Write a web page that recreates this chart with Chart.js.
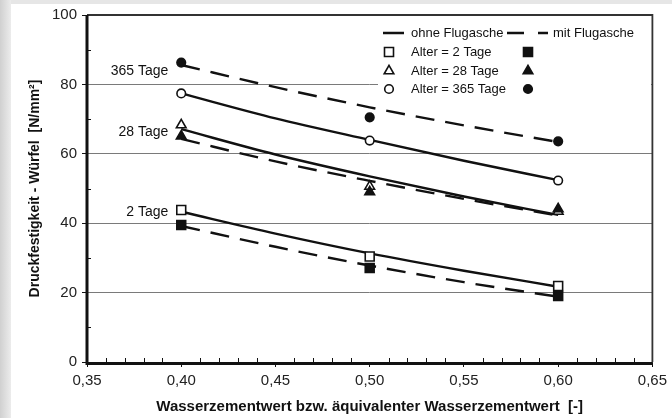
<!DOCTYPE html>
<html>
<head>
<meta charset="utf-8">
<script src="https://cdn.jsdelivr.net/npm/chart.js@4.4.1/dist/chart.umd.min.js"></script>
<style>
  html, body { margin: 0; padding: 0; background: #fff; }
  canvas { display: block; }
</style>
</head>
<body>
<canvas id="myChart" width="672" height="418"></canvas>
<script>
// Messwerte (w/z-Wert -> Druckfestigkeit N/mm²)
const wzWerte = [0.40, 0.50, 0.60]
const ohne2 = [43.8, 30.4, 21.9]
const mit2 = [39.5, 27.1, 19.0]
const ohne28 = [68.3, 50.6, 43.4]
const mit28 = [65.1, 49.0, 44.1]
const ohne365 = [77.4, 63.8, 52.3]
const mit365 = [86.3, 70.5, 63.6]

// Ausgleichskurven
const fitX = [0.40, 0.45, 0.50, 0.55, 0.60]
const fitOhne2 = [43.3, 37.0, 31.3, 26.3, 21.7]
const fitMit2 = [39.2, 33.2, 27.8, 23.0, 18.8]
const fitOhne28 = [67.1, 59.8, 53.5, 47.7, 42.4]
const fitMit28 = [64.3, 57.8, 52.2, 47.0, 42.2]
const fitOhne365 = [77.4, 70.2, 64.0, 58.0, 52.4]
const fitMit365 = [85.6, 79.2, 73.4, 68.2, 63.4]

const xTickWerte = [0.35, 0.40, 0.45, 0.50, 0.55, 0.60, 0.65]
const xTickLabels = ['0,35', '0,40', '0,45', '0,50', '0,55', '0,60', '0,65']
const yTickWerte = [0, 20, 40, 60, 80, 100]

const kurvenLabels = ['365 Tage', '28 Tage', '2 Tage']
const kurvenLabelY = [83.9, 66.3, 43.2]

const FONT = "'Liberation Sans', Arial, sans-serif"
const INK = '#111'

const pts = (xs, ys) => xs.map((x, i) => ({ x: x, y: ys[i] }))

const marker = (ys, style, filled) => ({
    data: pts(wzWerte, ys),
    showLine: false,
    pointStyle: style,
    pointRadius: style === 'rect' ? 6.3 : (style === 'triangle' ? 5.6 : 4.3),
    pointBackgroundColor: filled ? INK : '#fff',
    pointBorderColor: INK,
    pointBorderWidth: 1.6,
    order: filled ? 0 : 1
})

const kurve = (ys, dashed) => ({
    data: pts(fitX, ys),
    showLine: true,
    pointRadius: 0,
    borderColor: INK,
    borderWidth: 2.4,
    borderDash: dashed ? [19, 11] : [],
    cubicInterpolationMode: 'monotone',
    fill: false,
    order: 5
})

const drawMarker = (ctx, style, x, y, filled) => {
    ctx.save()
    ctx.lineWidth = 1.6
    ctx.strokeStyle = INK
    ctx.fillStyle = filled ? INK : '#fff'
    ctx.beginPath()
    if (style === 'rect') ctx.rect(x - 4.5, y - 4.5, 9, 9)
    else if (style === 'triangle') {
        ctx.moveTo(x, y - 5.6); ctx.lineTo(x + 4.8, y + 2.8); ctx.lineTo(x - 4.8, y + 2.8); ctx.closePath()
    } else ctx.arc(x, y, 4.3, 0, Math.PI * 2)
    ctx.fill(); ctx.stroke()
    ctx.restore()
}

const rahmen = {
    id: 'rahmen',
    beforeDraw(chart) {
        const ctx = chart.ctx
        ctx.save()
        ctx.fillStyle = '#fff'
        ctx.fillRect(0, 0, chart.width, chart.height)
        const g = ctx.createLinearGradient(0, 0, 11, 0)
        g.addColorStop(0, '#d0d0d0')
        g.addColorStop(1, '#ececec')
        ctx.fillStyle = g
        ctx.fillRect(0, 0, 11, chart.height)
        ctx.fillStyle = '#e6e6e6'
        ctx.fillRect(11, 0, chart.width - 11, 4)
        ctx.restore()
    },
    afterDatasetsDraw(chart) {
        const ctx = chart.ctx
        const xs = chart.scales.x, ys = chart.scales.y
        ctx.save()
        // Beschriftung der Kurven
        ctx.fillStyle = INK
        ctx.font = '14px ' + FONT
        ctx.textAlign = 'right'
        ctx.textBaseline = 'middle'
        kurvenLabels.forEach((t, i) => {
            ctx.fillText(t, xs.getPixelForValue(0.40) - 13, ys.getPixelForValue(kurvenLabelY[i]))
        })
        // Legende
        ctx.fillStyle = '#fff'
        ctx.fillRect(378, 17, 273, 82)
        ctx.strokeStyle = INK
        ctx.lineWidth = 2.4
        ctx.beginPath()
        ctx.moveTo(383, 33); ctx.lineTo(404, 33)
        ctx.moveTo(507, 33); ctx.lineTo(524, 33)
        ctx.moveTo(538, 33); ctx.lineTo(548, 33)
        ctx.stroke()
        ctx.fillStyle = INK
        ctx.font = '13px ' + FONT
        ctx.textAlign = 'left'
        ctx.fillText('ohne Flugasche', 411, 33)
        ctx.fillText('mit Flugasche', 553, 33)
        const zeilen = [['rect', 'Alter = 2 Tage', 52], ['triangle', 'Alter = 28 Tage', 71], ['circle', 'Alter = 365 Tage', 89]]
        zeilen.forEach(z => {
            ctx.fillStyle = INK
            ctx.fillText(z[1], 411, z[2])
            drawMarker(ctx, z[0], 389, z[2], false)
            drawMarker(ctx, z[0], 528, z[2], true)
        })
        ctx.restore()
    },
    afterDraw(chart) {
        const ctx = chart.ctx
        const a = chart.chartArea
        const xs = chart.scales.x, ys = chart.scales.y
        ctx.save()
        ctx.strokeStyle = INK
        // kleine Zwischenstriche
        ctx.lineWidth = 1
        ctx.beginPath()
        for (let i = 1; i < 30; i++) {
            if (i % 5 === 0) continue
            const px = Math.round(xs.getPixelForValue(0.35 + i * 0.01)) + 0.5
            ctx.moveTo(px, a.bottom); ctx.lineTo(px, a.bottom - 4)
        }
        for (let v = 10; v < 100; v += 20) {
            const py = Math.round(ys.getPixelForValue(v)) + 0.5
            ctx.moveTo(a.left, py); ctx.lineTo(a.left + 4, py)
        }
        ctx.stroke()
        // Rahmen oben/rechts
        ctx.strokeStyle = '#333'
        ctx.lineWidth = 1.8
        ctx.beginPath()
        ctx.moveTo(a.left, a.top); ctx.lineTo(a.right, a.top); ctx.lineTo(a.right, a.bottom)
        ctx.stroke()
        // Achsen links/unten
        ctx.strokeStyle = INK
        ctx.lineWidth = 3
        ctx.beginPath()
        ctx.moveTo(a.left, a.top); ctx.lineTo(a.left, a.bottom + 1.5); ctx.lineTo(a.right, a.bottom + 1.5)
        ctx.stroke()
        ctx.restore()
    }
}

const config = {
    type: 'scatter',
    data: {
        datasets: [
            marker(mit2, 'rect', true),
            marker(mit28, 'triangle', true),
            marker(mit365, 'circle', true),
            marker(ohne2, 'rect', false),
            marker(ohne28, 'triangle', false),
            marker(ohne365, 'circle', false),
            kurve(fitOhne2, false),
            kurve(fitMit2, true),
            kurve(fitOhne28, false),
            kurve(fitMit28, true),
            kurve(fitOhne365, false),
            kurve(fitMit365, true)
        ]
    },
    options: {
        responsive: false,
        animation: false,
        devicePixelRatio: 1,
        layout: { padding: { left: 0, top: 15, right: 15, bottom: 0 } },
        plugins: { legend: { display: false }, tooltip: { enabled: false } },
        scales: {
            x: {
                type: 'linear',
                min: 0.35,
                max: 0.65,
                afterBuildTicks: (s) => { s.ticks = xTickWerte.map(v => ({ value: v })) },
                afterFit: (s) => { s.height = 56 },
                grid: { drawOnChartArea: false, drawTicks: true, tickLength: 5, tickColor: INK, tickWidth: 1 },
                border: { display: false },
                ticks: {
                    color: '#222',
                    font: { family: FONT, size: 15 },
                    padding: 5,
                    maxRotation: 0,
                    callback: (v, i) => xTickLabels[i]
                },
                title: {
                    display: true,
                    text: 'Wasserzementwert bzw. äquivalenter Wasserzementwert  [-]',
                    color: INK,
                    font: { family: FONT, size: 15, weight: 'bold' },
                    padding: { top: 0, bottom: 2 }
                }
            },
            y: {
                min: 0,
                max: 100,
                afterBuildTicks: (s) => { s.ticks = yTickWerte.map(v => ({ value: v })) },
                afterFit: (s) => { s.width = 87 },
                grid: { color: '#7a7a7a', lineWidth: 1, drawTicks: true, tickLength: 5, tickColor: INK },
                border: { display: false },
                ticks: {
                    color: '#222',
                    font: { family: FONT, size: 15 },
                    padding: 5
                },
                title: {
                    display: true,
                    text: 'Druckfestigkeit - Würfel  [N/mm²]',
                    color: INK,
                    font: { family: FONT, size: 14, weight: 'bold' },
                    padding: { top: 27, bottom: 0 }
                }
            }
        }
    },
    plugins: [rahmen]
}

const myChart = new Chart(document.getElementById('myChart'), config)
</script>
</body>
</html>
